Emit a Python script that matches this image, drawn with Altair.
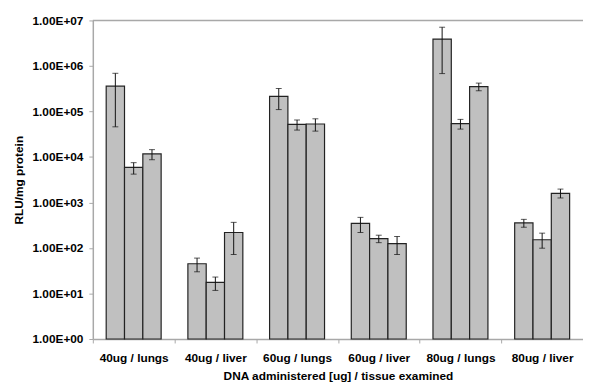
import altair as alt
import pandas as pd

groups = ["40ug / lungs", "40ug / liver", "60ug / lungs", "60ug / liver", "80ug / lungs", "80ug / liver"]
series = ["s1", "s2", "s3"]
values = [
    [3.6e5, 5.9e3, 1.17e4],
    [45, 17.5, 219],
    [2.15e5, 5.2e4, 5.3e4],
    [348, 160, 125],
    [3.9e6, 5.4e4, 3.5e5],
    [356, 152, 1590],
]
err_hi = [
    [6.9e5, 7.5e3, 1.45e4],
    [60, 23, 366],
    [3.2e5, 6.5e4, 6.9e4],
    [471, 191, 179],
    [7.1e6, 6.7e4, 4.2e5],
    [426, 212, 1970],
]
err_lo = [
    [4.6e4, 4.2e3, 8.7e3],
    [30, 11.7, 72],
    [1.1e5, 3.9e4, 3.7e4],
    [219, 131, 72],
    [6.8e5, 4.1e4, 2.85e5],
    [286, 99, 1257],
]
y_ticks = [1, 10, 100, 1000, 1e4, 1e5, 1e6, 1e7]

rows = []
for gi, g in enumerate(groups):
    for si, s in enumerate(series):
        rows.append({"group": g, "series": s, "value": values[gi][si],
                     "hi": err_hi[gi][si], "lo": err_lo[gi][si]})
df = pd.DataFrame(rows)

FONT = "Liberation Sans"
yscale = alt.Scale(type="log", domain=[1, 1e7])

base = alt.Chart(df).encode(
    x=alt.X("group:N", sort=groups,
            scale=alt.Scale(paddingInner=0, paddingOuter=0),
            axis=alt.Axis(title="DNA administered [ug] / tissue examined", labelAngle=0,
                          tickBand="extent", labelPadding=10, titlePadding=7)),
    xOffset=alt.XOffset("series:N", sort=series,
                        scale=alt.Scale(paddingInner=0, paddingOuter=0.73)),
)

bars = base.mark_bar(fill="#c0c0c0", stroke="#222222", strokeWidth=1.2).encode(
    y=alt.Y("value:Q", scale=yscale,
            axis=alt.Axis(title="RLU/mg protein", values=y_ticks,
                          labelExpr="'1.00E+' + (round(log(datum.value)/LN10) < 10 ? '0' : '') + round(log(datum.value)/LN10)",
                          labelPadding=6, titlePadding=7)),
    y2=alt.datum(1),
)
rules = base.mark_rule(color="#111111", strokeWidth=1).encode(y=alt.Y("lo:Q", scale=yscale), y2="hi:Q")
cap_hi = base.mark_tick(color="#111111", size=6, thickness=1).encode(y=alt.Y("hi:Q", scale=yscale))
cap_lo = base.mark_tick(color="#111111", size=6, thickness=1).encode(y=alt.Y("lo:Q", scale=yscale))

top = alt.Chart(pd.DataFrame({"v": [1e7]})).mark_rule(color="#a8a8a8", strokeWidth=1.5).encode(
    y=alt.Y("v:Q", scale=yscale))

chart = alt.layer(bars, rules, cap_hi, cap_lo, top).properties(
    width=497, height=323,
    padding={"left": 86, "top": 10, "right": 0, "bottom": 44},
    autosize="none",
).configure_view(stroke=None).configure_axis(
    grid=False,
    labelFont=FONT, labelFontWeight="bold", labelFontSize=12, labelColor="black",
    titleFont=FONT, titleFontWeight="bold", titleFontSize=12, titleColor="black",
    domainColor="#a8a8a8", domainWidth=1.5, tickColor="#a8a8a8", tickSize=4,
)

chart.save("out.html", embed_options={"renderer": "svg", "actions": False})
